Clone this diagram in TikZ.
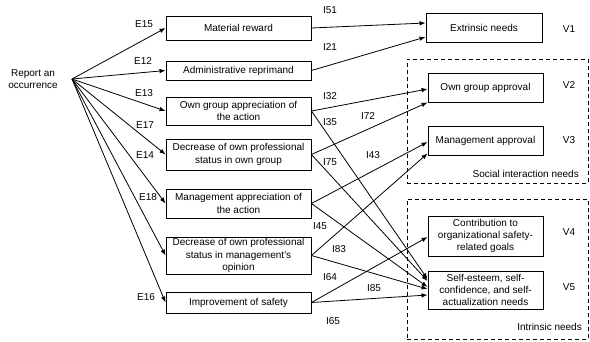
\documentclass[tikz,border=0pt]{standalone}
\usepackage{fontspec}
\setmainfont{Liberation Sans}
\usetikzlibrary{arrows.meta}
\begin{document}
\begin{tikzpicture}[x=1pt,y=-1pt,
  every node/.style={font=\fontsize{10}{12.3}\selectfont, inner sep=0pt},
  box/.style={draw, line width=0.9pt, align=center},
  mid/.style={box, minimum width=145pt},
  rbox/.style={box, minimum width=115pt},
  arr/.style={-{Latex[length=6pt,width=4.5pt]}, line width=0.8pt},
  grp/.style={draw, dashed, dash pattern=on 4pt off 3pt, line width=0.9pt},
  lab/.style={anchor=center}]
\useasboundingbox (0,0) rectangle (590,341);
% source
\node[align=center] (rep) at (33,79) {Report an\\occurrence};
\coordinate (src) at (72,79);
% middle boxes
\node[mid, minimum height=24pt] (m1) at (238.5,28) {Material reward};
\node[mid, minimum height=19pt] (m2) at (238.5,70.5) {Administrative reprimand};
\node[mid, minimum height=28pt] (m3) at (238.5,111) {Own group appreciation of\\the action};
\node[mid, minimum height=31pt] (m4) at (238.5,154.5) {Decrease of own professional\\status in own group};
\node[mid, minimum height=29pt] (m5) at (238.5,203.5) {Management appreciation of\\the action};
\node[mid, minimum height=37pt] (m6) at (238.5,255.5) {Decrease of own professional\\status in management's\\opinion};
\node[mid, minimum height=21pt] (m7) at (238.5,302.5) {Improvement of safety};
% groups
\node[grp, minimum width=181pt, minimum height=124pt] (g1) at (497.5,121) {};
\node[grp, minimum width=181pt, minimum height=140pt] (g2) at (497.5,269) {};
\node[anchor=east] (g1t) at (579,174) {Social interaction needs};
\node[anchor=east] (g2t) at (582,327) {Intrinsic needs};
% right boxes
\node[rbox, minimum width=116pt, minimum height=29pt] (v1) at (484,27.5) {Extrinsic needs};
\node[rbox, minimum height=29pt] (v2) at (485.5,87.5) {Own group approval};
\node[rbox, minimum height=29pt] (v3) at (485.5,140.5) {Management approval};
\node[rbox, minimum height=40pt] (v4) at (485.5,236) {Contribution to\\organizational safety-\\related goals};
\node[rbox, minimum height=38pt] (v5) at (485.5,290) {Self-esteem, self-\\confidence, and self-\\actualization needs};
\node (V1) at (569,29) {V1};
\node (V2) at (569,85) {V2};
\node (V3) at (569,140) {V3};
\node (V4) at (569,232) {V4};
\node (V5) at (569,287) {V5};
% left arrows
\draw[arr] (src) -- (m1.west);
\draw[arr] (src) -- (m2.west);
\draw[arr] (src) -- (m3.west);
\draw[arr] (src) -- (m4.west);
\draw[arr] (src) -- (m5.west);
\draw[arr] (src) -- (m6.west);
\draw[arr] (src) -- (m7.west);
\node (E15) at (144,24) {E15};
\node (E12) at (143,61) {E12};
\node (E13) at (144,93) {E13};
\node (E17) at (145,125) {E17};
\node (E14) at (145,155) {E14};
\node (E18) at (148,197) {E18};
\node (E16) at (146,297) {E16};
% right arrows
\draw[arr] (m1.east) -- ([yshift=4.5pt]v1.west);
\draw[arr] (m2.east) -- ([yshift=-9.5pt]v1.west);
\draw[arr] (m3.east) -- ([yshift=-1.5pt]v2.west);
\draw[arr] (m4.east) -- (v2.south west);
\draw[arr] (m5.east) -- ([yshift=-1.5pt]v3.west);
\draw[arr] (m6.east) -- ([yshift=2pt]v3.south west);
\draw[arr] (m7.east) -- ([yshift=-1pt]v4.west);
\draw[arr] (m3.east) -- ([yshift=11pt]v5.west);
\draw[arr] (m4.east) -- ([yshift=9pt]v5.west);
\draw[arr] (m5.east) -- ([yshift=3pt]v5.west);
\draw[arr] (m6.east) -- ([yshift=1pt]v5.west);
\draw[arr] (m7.east) -- ([yshift=-5pt]v5.west);
\node (I51) at (330,10) {I51};
\node (I21) at (330,47) {I21};
\node (I32) at (330,96) {I32};
\node (I35) at (330,122) {I35};
\node (I72) at (368,116) {I72};
\node (I75) at (330,162) {I75};
\node (I43) at (373,155) {I43};
\node (I45) at (320,226) {I45};
\node (I83) at (339,249) {I83};
\node (I64) at (330,277) {I64};
\node (I85) at (374,288) {I85};
\node (I65) at (333,321) {I65};
\end{tikzpicture}
\end{document}
